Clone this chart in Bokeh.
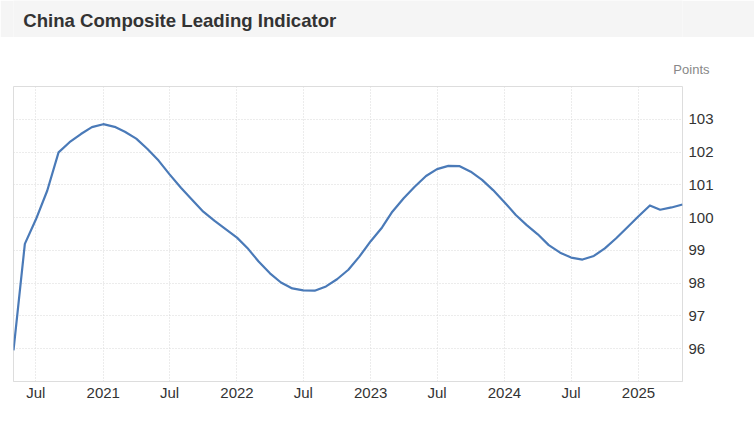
import pandas as pd
from bokeh.plotting import figure
from bokeh.layouts import column
from bokeh.models import Range1d, FixedTicker, Title, Label
from bokeh.embed import file_html
from bokeh.resources import INLINE

# ---------------- data ----------------
title_text = "China Composite Leading Indicator"
unit_text = "Points"
start_month = "2020-05-01"

values_2020 = [95.95, 99.20, 99.94, 100.82, 101.99, 102.30, 102.55, 102.76]
values_2021 = [102.85, 102.77, 102.62, 102.41, 102.10, 101.74, 101.32, 100.91, 100.54, 100.18, 99.90, 99.65]
values_2022 = [99.39, 99.04, 98.66, 98.30, 98.02, 97.84, 97.78, 97.77, 97.90, 98.12, 98.41, 98.81]
values_2023 = [99.28, 99.70, 100.18, 100.59, 100.94, 101.27, 101.48, 101.58, 101.57, 101.40, 101.15, 100.84]
values_2024 = [100.47, 100.08, 99.78, 99.49, 99.16, 98.93, 98.78, 98.72, 98.83, 99.06, 99.37, 99.70]
values_2025 = [100.04, 100.37, 100.24, 100.31, 100.40]

x_tick_dates = ["2020-07-01", "2021-01-01", "2021-07-01", "2022-01-01", "2022-07-01",
                "2023-01-01", "2023-07-01", "2024-01-01", "2024-07-01", "2025-01-01"]
x_tick_labels = ["Jul", "2021", "Jul", "2022", "Jul", "2023", "Jul", "2024", "Jul", "2025"]
y_ticks = [96, 97, 98, 99, 100, 101, 102, 103]
y_tick_labels = ["96", "97", "98", "99", "100", "101", "102", "103"]
y_min, y_max = 95, 104

# ---------------- build ----------------
values = values_2020 + values_2021 + values_2022 + values_2023 + values_2024 + values_2025
dates = pd.date_range(start_month, periods=len(values), freq="MS")


def ms(d):
    return int(pd.Timestamp(d).value // 1_000_000)


xs = [ms(d) for d in dates]
x_ticks = [ms(d) for d in x_tick_dates]

W, H = 754, 426
HB = 37                       # header band height
FL, FT, FW, FH = 13, 86 - HB, 669, 295
H2 = H - HB
x0, x1 = xs[0], xs[-1]

# ---- header band with the title ----
head = figure(width=W, height=HB, x_range=Range1d(0, W), y_range=Range1d(0, HB),
              output_backend="svg", toolbar_location=None, title=None,
              x_axis_location=None, y_axis_location=None,
              min_border=0, min_border_left=0, min_border_right=0,
              min_border_top=0, min_border_bottom=0)
head.outline_line_color = None
head.background_fill_color = "#f5f5f5"
head.border_fill_color = "#f5f5f5"
head.xgrid.visible = False
head.ygrid.visible = False
head.add_layout(Label(x=11, y=17, text=title_text, text_align="left",
                      text_baseline="alphabetic", text_font="Liberation Sans",
                      text_font_style="bold", text_font_size="18.6px",
                      text_color="#333333"))

# ---- main chart ----
p = figure(width=W, height=H2, x_axis_type="datetime", y_axis_location="right",
           x_range=Range1d(x0, x1), y_range=Range1d(y_min, y_max),
           output_backend="svg", toolbar_location=None, title=None,
           min_border_left=FL, min_border_right=W - FL - FW,
           min_border_top=FT, min_border_bottom=H2 - FT - FH)
p.outline_line_color = "#dddddd"
p.background_fill_color = "white"
p.border_fill_color = "white"

xa = p.xaxis[0]
xa.ticker = FixedTicker(ticks=x_ticks)
xa.major_label_overrides = dict(zip(x_ticks, x_tick_labels))
xa.axis_line_color = "#dddddd"
xa.major_tick_line_color = None
xa.major_tick_out = 0
xa.major_tick_in = 0
xa.minor_tick_line_color = None
xa.minor_tick_out = 0
xa.major_label_standoff = 2
xa.major_label_text_font = "Liberation Sans"
xa.major_label_text_font_size = "15px"
xa.major_label_text_color = "#333333"

ya = p.yaxis[0]
ya.ticker = FixedTicker(ticks=y_ticks)
ya.major_label_overrides = dict(zip(y_ticks, y_tick_labels))
ya.axis_line_color = None
ya.major_tick_line_color = None
ya.major_tick_out = 0
ya.major_tick_in = 0
ya.minor_tick_line_color = None
ya.minor_tick_out = 0
ya.major_label_standoff = 6
ya.major_label_text_font = "Liberation Sans"
ya.major_label_text_font_size = "15px"
ya.major_label_text_color = "#333333"

p.xgrid.ticker = FixedTicker(ticks=x_ticks)
p.xgrid.grid_line_color = "#d9d9d9"
p.xgrid.grid_line_dash = "1 2"
p.ygrid.ticker = FixedTicker(ticks=y_ticks + [y_max])
p.ygrid.grid_line_color = "#d9d9d9"
p.ygrid.grid_line_dash = "1 2"

p.line(xs, values, line_color="#4a7ab8", line_width=2.2, line_join="round")

p.add_layout(Title(text=unit_text, align="right", offset=-27, standoff=19,
                   text_font="Liberation Sans", text_font_size="13px",
                   text_font_style="normal", text_color="#888888"), "above")

page = column(head, p, spacing=0)
open("out.html", "w").write(file_html(page, INLINE))
